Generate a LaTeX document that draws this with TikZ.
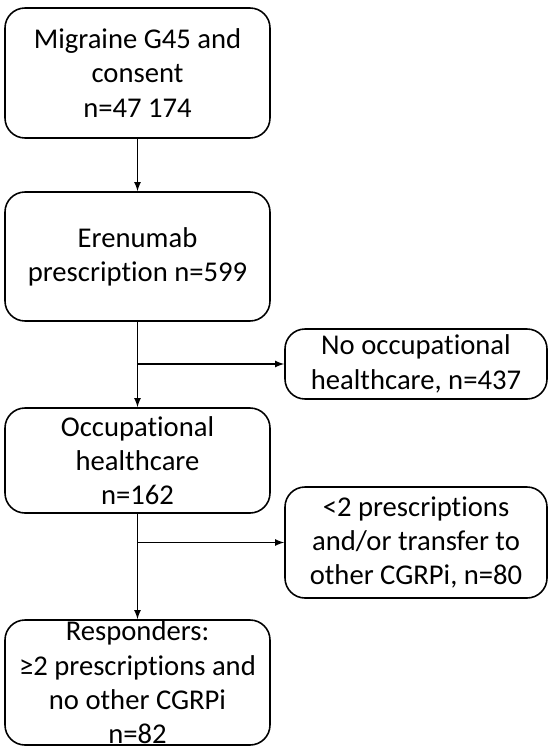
\documentclass[tikz,border=0pt]{standalone}
\usepackage{fontspec}
\setmainfont{Carlito}[Ligatures=NoCommon]
\usepackage{tikz}
\usetikzlibrary{calc}
\tikzstyle{boite} = [rectangle, rounded corners=0.4cm, draw=black, line width=0.9pt, align=center, font=\fontsize{16.3}{19.5}\selectfont, inner sep=0pt]
\tikzstyle{fleche} = [-latex, line width=0.8pt]

\begin{document}
\begin{tikzpicture}
        \useasboundingbox (0,0) rectangle (11,-15.04);

        \node (B1) [boite, minimum width=5.3cm, minimum height=2.6cm] at (2.75,-1.46) {Migraine G45 and\\consent\\n=47 174};
        \node (B2) [boite, minimum width=5.3cm, minimum height=2.58cm] at (2.75,-5.13) {Erenumab\\prescription n=599};
        \node (B3) [boite, minimum width=5.3cm, minimum height=2.1cm] at (2.75,-9.21) {Occupational\\healthcare\\n=162};
        \node (B4) [boite, minimum width=5.3cm, minimum height=2.5cm] at (2.75,-13.65) {Responders:\\≥2 prescriptions and\\no other CGRPi\\n=82};

        \node (S1) [boite, minimum width=5.24cm, minimum height=1.4cm] at (8.32,-7.28) {No occupational\\healthcare, n=437};
        \node (S2) [boite, minimum width=5.24cm, minimum height=2.22cm] at (8.32,-10.85) {<2 prescriptions\\and/or transfer to\\other CGRPi, n=80};

        \coordinate (J1) at (B2.south |- S1.west);
        \coordinate (J2) at (B3.south |- S2.west);

        \draw [fleche] (B1) -- (B2);
        \draw [fleche] (B2) -- (B3);
        \draw [fleche] (B3) -- (B4);
        \draw [fleche] (J1) -- (S1);
        \draw [fleche] (J2) -- (S2);

    \end{tikzpicture}
\end{document}
